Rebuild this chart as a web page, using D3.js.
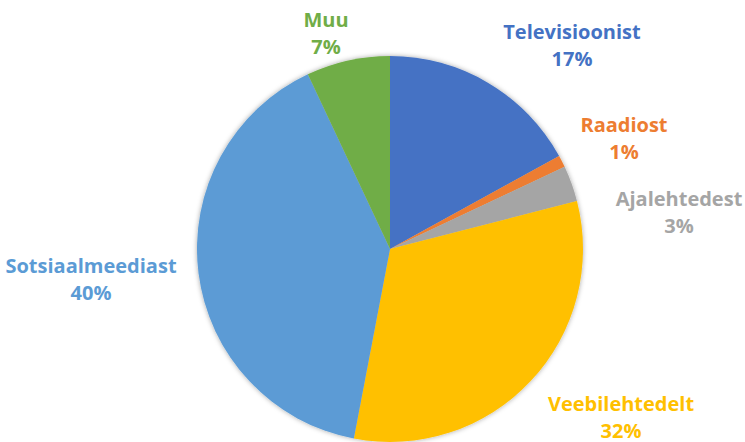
<!DOCTYPE html>
<html>
<head>
<meta charset="utf-8">
<script src="https://cdn.jsdelivr.net/npm/d3@7"></script>
<style>
  html, body { margin: 0; padding: 0; background: #fff; }
  svg { display: block; }
  text { font-family: "Open Sans", "Noto Sans", sans-serif; font-weight: 700; }
</style>
</head>
<body>
<div id="chart"></div>
<script>
// data
const categories = ['Televisioonist', 'Raadiost', 'Ajalehtedest', 'Veebilehtedelt', 'Sotsiaalmeediast', 'Muu'];
const values = [17, 1, 3, 32, 40, 7];
const colors = ['#4472C4', '#ED7D31', '#A5A5A5', '#FFC000', '#5B9BD5', '#70AD47'];
// label anchor (centre of first line baseline) — Excel best-fit spots
const labelPos = [[572, 39], [624, 132], [679, 206], [621, 411], [91, 273], [326, 27]];

const W = 745, H = 442;
const cx = 390, cy = 249, R = 193;

const svg = d3.select('#chart').append('svg').attr('width', W).attr('height', H);

const defs = svg.append('defs');
const f = defs.append('filter').attr('id', 'sh')
  .attr('x', '-10%').attr('y', '-10%').attr('width', '120%').attr('height', '120%');
f.append('feDropShadow').attr('dx', 0).attr('dy', 0).attr('stdDeviation', 2.5)
  .attr('flood-color', '#000').attr('flood-opacity', 0.35);

const data = categories.map((c, i) => ({name: c, value: values[i], color: colors[i]}));
const pie = d3.pie().value(d => d.value).sort(null);
const arc = d3.arc().innerRadius(0).outerRadius(R);

const g = svg.append('g').attr('transform', `translate(${cx},${cy})`);
g.append('g').attr('filter', 'url(#sh)')
  .selectAll('path').data(pie(data)).join('path')
  .attr('d', arc)
  .attr('fill', d => d.data.color);

// labels
const lbl = svg.append('g').selectAll('text').data(data).join('text')
  .attr('text-anchor', 'middle')
  .attr('font-size', 20)
  .attr('fill', d => d.color)
  .attr('x', (d, i) => labelPos[i][0])
  .attr('y', (d, i) => labelPos[i][1]);
lbl.append('tspan').text(d => d.name);
lbl.append('tspan')
  .attr('x', (d, i) => labelPos[i][0])
  .attr('dy', 27)
  .text(d => d.value + '%');
</script>
</body>
</html>
